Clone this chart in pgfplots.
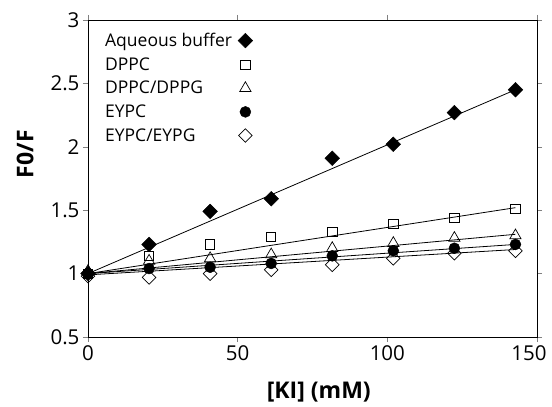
\documentclass[border=0pt]{standalone}
\usepackage{fontspec}
\setmainfont{Open Sans}
\usepackage{pgfplots}
\pgfplotsset{compat=1.18}

\begin{document}
\begin{tikzpicture}
\useasboundingbox (-88pt,-70pt) rectangle (464pt,337pt);
\begin{axis}[scale only axis,width=449pt,height=317pt,
 xmin=0,xmax=150,ymin=0.5,ymax=3,
 xtick={0,50,100,150},xticklabels={0,50,100,{\hspace*{-16pt}150}},
 ytick={0.5,1,1.5,2,2.5,3},
 tick align=outside,tick style={black!50,line width=0.6pt},major tick length=5pt,
 axis line style={line width=0.9pt},
 /pgf/number format/assume math mode=true,
 tick label style={font=\fontsize{20.5}{24}\selectfont},
 xlabel={\textbf{[KI] (mM)}},ylabel={\textbf{F0/F}},
 label style={font=\fontsize{23}{27}\selectfont},
 xlabel style={at={(axis description cs:0.514,-0.173)},anchor=center},
 ylabel style={at={(axis description cs:-0.14,0.577)},anchor=center},
 legend style={draw=none,fill=none,at={(axis cs:4,2.93)},anchor=north west,
   font=\fontsize{17.5}{20}\selectfont,row sep=5.5pt,
   /tikz/every odd column/.append style={column sep=4pt}},
 legend cell align=left,legend plot pos=right]

% fitted lines
\addplot[black,line width=0.8pt,forget plot] coordinates {(0,1.0) (142.8,2.45)};
\addplot[black,line width=0.8pt,forget plot] coordinates {(0,1.0) (142.8,1.52)};
\addplot[black,line width=0.8pt,forget plot] coordinates {(0,1.0) (142.8,1.31)};
\addplot[black,line width=0.8pt,forget plot] coordinates {(0,1.0) (142.8,1.23)};
\addplot[black,line width=0.8pt,forget plot] coordinates {(0,0.99) (142.8,1.19)};

\addplot[only marks,mark=square*,mark options={rotate=45,fill=black,draw=black},mark size=5.2pt] coordinates {
 (0,1.00) (20.4,1.23) (40.8,1.49) (61.2,1.59) (81.6,1.91) (102,2.02) (122.4,2.27) (142.8,2.45)};
\addlegendentry{Aqueous buffer}
\addplot[only marks,mark=square,mark options={fill=white,draw=black,line width=0.7pt},mark size=4.6pt] coordinates {
 (0,1.00) (20.4,1.14) (40.8,1.23) (61.2,1.29) (81.6,1.33) (102,1.39) (122.4,1.44) (142.8,1.51)};
\addlegendentry{DPPC}
\addplot[only marks,mark=triangle,mark options={fill=white,draw=black,line width=0.7pt},mark size=6.5pt] coordinates {
 (0,1.02) (20.4,1.10) (40.8,1.12) (61.2,1.15) (81.6,1.20) (102,1.24) (122.4,1.28) (142.8,1.30)};
\addlegendentry{DPPC/DPPG}
\addplot[only marks,mark=*,mark options={fill=black,draw=black},mark size=5.5pt] coordinates {
 (0,1.00) (20.4,1.04) (40.8,1.05) (61.2,1.08) (81.6,1.14) (102,1.18) (122.4,1.20) (142.8,1.23)};
\addlegendentry{EYPC}
\addplot[only marks,mark=square,mark options={rotate=45,fill=white,draw=black,line width=0.7pt},mark size=4.8pt] coordinates {
 (0,0.98) (20.4,0.97) (40.8,1.00) (61.2,1.03) (81.6,1.07) (102,1.12) (122.4,1.16) (142.8,1.18)};
\addlegendentry{EYPC/EYPG}
\end{axis}
\end{tikzpicture}
\end{document}
